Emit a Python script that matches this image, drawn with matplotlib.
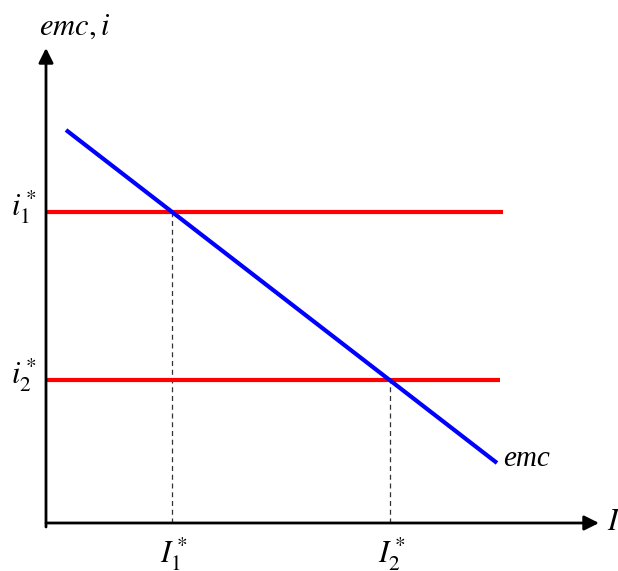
import numpy as np
import matplotlib
matplotlib.use("Agg")
import matplotlib.pyplot as plt

plt.rcParams["font.family"] = ["Liberation Serif", "DejaVu Serif"]
plt.rcParams["mathtext.fontset"] = "stix"

# emc schedule (investment on x, rate on y) and the two interest rates
emc_x = [0.20, 4.51]
emc_y = [3.93, 0.60]
rates = [3.11, 1.43]
rate_ends = [4.57, 4.54]
rate_labels = [r"$i_1^*$", r"$i_2^*$"]
inv_labels = [r"$I_1^*$", r"$I_2^*$"]

fig = plt.figure(figsize=(6.18, 5.71), dpi=100)
ax = fig.add_axes([0, 0, 1, 1])
ax.set_xlim(-0.46, 5.72)
ax.set_ylim(-0.48, 5.23)
ax.axis("off")

# axes with arrow heads
arrow = dict(arrowstyle="-|>", color="black", lw=2, mutation_scale=22, shrinkA=0, shrinkB=0)
ax.annotate("", xy=(5.53, 0), xytext=(0, 0), arrowprops=arrow)
ax.annotate("", xy=(0, 4.75), xytext=(0, -0.04), arrowprops=arrow)

slope = (emc_y[1] - emc_y[0]) / (emc_x[1] - emc_x[0])
for r, end, rl, il in zip(rates, rate_ends, rate_labels, inv_labels):
    ax.plot([0.01, end], [r, r], color="#ff0000", lw=3, solid_capstyle="butt", zorder=2)
    inv = emc_x[0] + (r - emc_y[0]) / slope
    ax.plot([inv, inv], [0, r], color="#333333", lw=0.9, ls=(0, (4, 3)), zorder=1)
    ax.text(-0.22, r + 0.05, rl, fontsize=22, ha="center", va="center")
    ax.text(inv + 0.02, -0.31, il, fontsize=22, ha="center", va="center")

ax.plot(emc_x, emc_y, color="#0000ff", lw=3, solid_capstyle="butt", zorder=3)

ax.text(emc_x[1] + 0.06, emc_y[1] + 0.04, "emc", fontsize=21, style="italic",
        ha="left", va="center")
ax.text(-0.07, 4.96, r"$emc, i$", fontsize=22, ha="left", va="center")
ax.text(5.61, 0.0, "$I$", fontsize=22, ha="left", va="center")

fig.savefig("out.png", dpi=100)
